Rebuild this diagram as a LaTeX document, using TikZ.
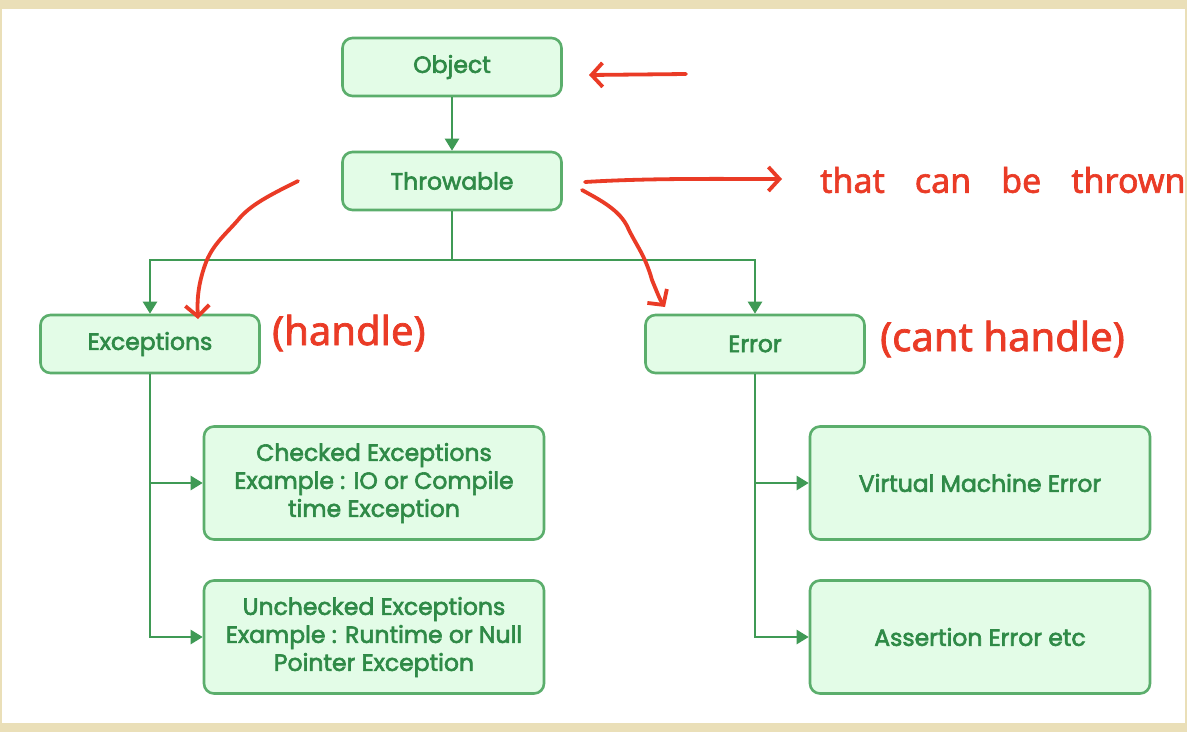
\documentclass[tikz,border=0pt]{standalone}
\usepackage{fontspec}
\setmainfont{Poppins}
\newfontfamily\boxfont{Poppins}[FakeBold=2.6]
\newfontfamily\handfont{Noto Sans}[FakeBold=1.8]
\usetikzlibrary{arrows.meta}
\definecolor{boxfill}{HTML}{E3FCE7}
\definecolor{boxline}{HTML}{5BAE6C}
\definecolor{txtgreen}{HTML}{2F8A47}
\definecolor{linegreen}{HTML}{3F9A55}
\definecolor{redink}{HTML}{EA3B26}
\definecolor{beige}{HTML}{EADFB8}
\begin{document}
\begin{tikzpicture}[x=1pt,y=-1pt,
  box/.style={draw=boxline, line width=2.6pt, fill=boxfill, rounded corners=10pt,
    text=txtgreen, font=\boxfont\fontsize{23.5}{28}\selectfont, align=center,
    inner sep=0pt, minimum width=219pt, minimum height=58pt},
  bigbox/.style={box, minimum width=340pt, minimum height=113pt},
  conn/.style={draw=linegreen, line width=2.4pt, -{Triangle[length=12pt,width=14pt]}},
  plain/.style={draw=linegreen, line width=2.4pt},
  ink/.style={draw=redink, line width=3.8pt, line cap=round, line join=round},
  inkarrow/.style={ink, -{Straight Barb[length=11pt,width=24pt,line width=3.8pt]}},
  hand/.style={text=redink, font=\handfont\fontsize{40}{44}\selectfont, inner sep=0pt, anchor=west}
]
\useasboundingbox (0,0) rectangle (1187,732);
\fill[beige] (0,0) rectangle (1187,732);
\fill[white] (2,9) rectangle (1185,723);

\node[box] (object) at (452,67) {Object};
\node[box] (throwable) at (452,181) {Throwable};
\node[box] (exc) at (150,344) {Exceptions};
\node[box] (err) at (755,344) {Error};
\node[bigbox] (checked) at (374,483) {Checked Exceptions\\Example : IO or Compile\\time Exception};
\node[bigbox] (unchecked) at (374,637) {Unchecked Exceptions\\Example : Runtime or Null\\Pointer Exception};
\node[bigbox] (vme) at (980,483) {Virtual Machine Error};
\node[bigbox] (assert) at (980,637) {Assertion Error etc};

\coordinate (split) at (452,260);
\draw[conn] (object) -- (throwable);
\draw[plain] (throwable.south) -- (split);
\draw[conn] (split) -| (exc);
\draw[conn] (split) -| (err);
\draw[conn] (exc.south) |- (checked.west);
\draw[conn] (exc.south) |- (unchecked.west);
\draw[conn] (err.south) |- (vme.west);
\draw[conn] (err.south) |- (assert.west);

% handwritten annotations
\coordinate (objtail) at (686,74);
\coordinate (objtip) at (589,75);
\draw[inkarrow] (objtail) -- (objtip);

\coordinate (thtail) at (585,182);
\coordinate (thtip) at (782,179);
\draw[inkarrow] (thtail) .. controls (650,178) and (720,179) .. (thtip);

\coordinate (c1a) at (298,181);
\coordinate (c1tip) at (198,319);
\draw[inkarrow] (c1a) .. controls (270,195) and (250,205) .. (238,220)
  .. controls (225,235) and (212,245) .. (205,265)
  .. controls (198,285) and (197,300) .. (c1tip);

\coordinate (c2a) at (582,190);
\coordinate (c2tip) at (665,307);
\draw[inkarrow] (c2a) .. controls (600,200) and (620,210) .. (628,228)
  .. controls (636,245) and (645,255) .. (652,280)
  .. controls (657,292) and (660,300) .. (c2tip);

\node[hand, font=\handfont\fontsize{34}{38}\selectfont] (thrown) at (820,180) {that\hspace{30pt}can\hspace{30pt}be\hspace{30pt}thrown};
\node[hand] (handle) at (272,333) {(handle)};
\node[hand] (canthandle) at (880,339) {(cant handle)};
\end{tikzpicture}
\end{document}
